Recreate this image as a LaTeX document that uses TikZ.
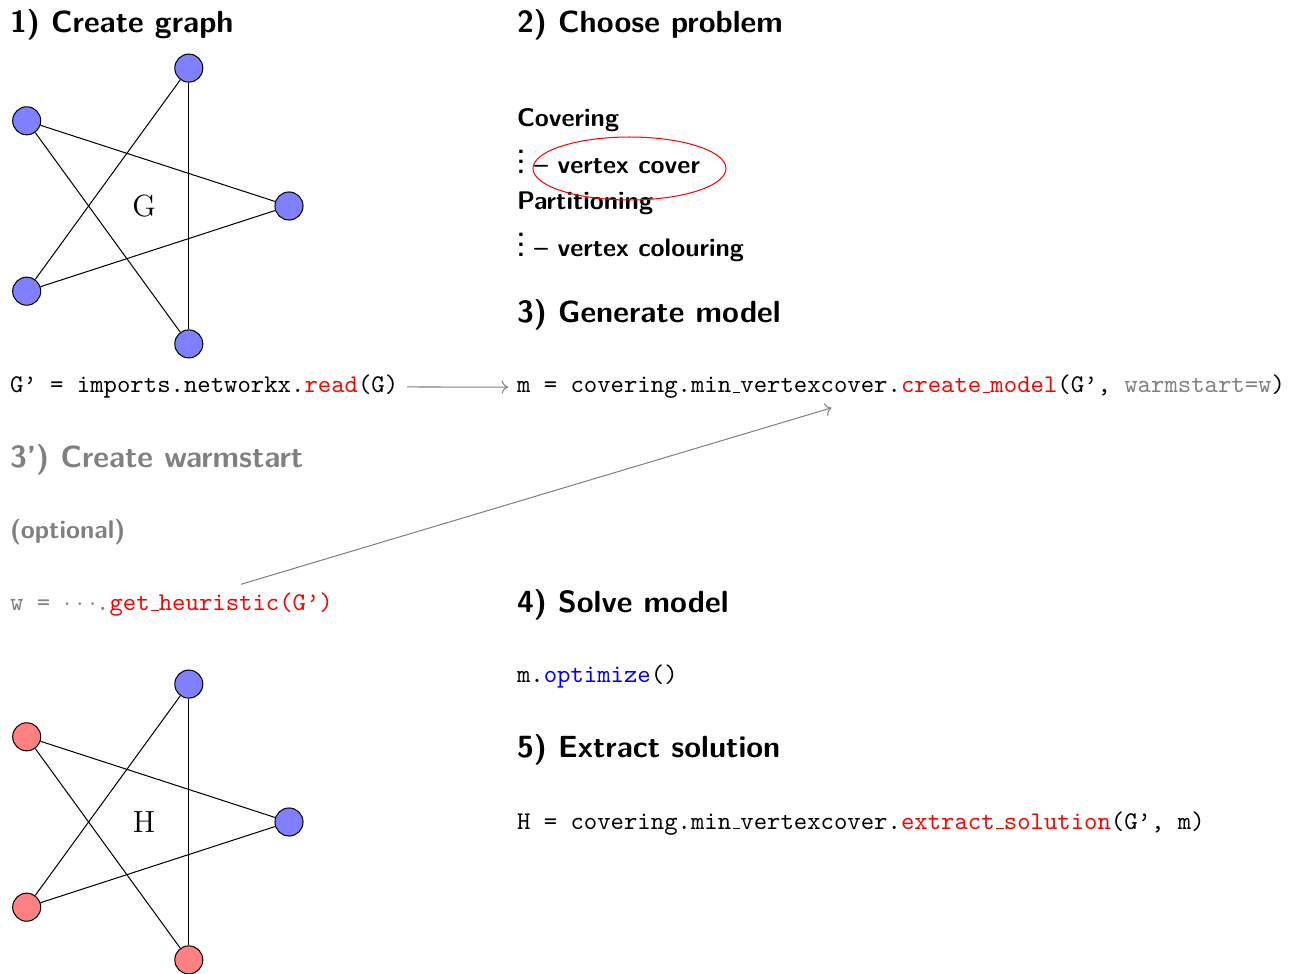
\documentclass[tikz,border=0pt]{standalone}
\usetikzlibrary{arrows.meta}
\newcommand\usc{\leavevmode\kern.06em\vbox{\hrule width.3em}}
\tikzset{
  head/.style={anchor=base west, font=\large\sffamily\bfseries},
  itemtxt/.style={anchor=base west, font=\sffamily\bfseries},
  code/.style={anchor=base west, font=\ttfamily},
  vtx/.style={circle, draw=black, minimum size=11pt, inner sep=0pt},
  bv/.style={vtx, fill=blue!50},
  rv/.style={vtx, fill=red!50},
  edge/.style={draw=black},
  conn/.style={->, draw=black!50},
  faint/.style={text=black!50},
  glabel/.style={font=\large},
}
\begin{document}
\begin{tikzpicture}[x=0.3922pt,y=-0.3922pt]
\useasboundingbox (0,0) rectangle (1295,974);
% headings and texts
\node[head] (h1) at (1,33) {1) Create graph};
\node[head] (h2) at (508,33) {2) Choose problem};
\node[itemtxt] (cov) at (508,126.5) {Covering};
\node[itemtxt] (vc) at (508,173.5) {$\vdots$ – vertex cover};
\node[itemtxt] (par) at (508,209.5) {Partitioning};
\node[itemtxt] (vcol) at (508,256.5) {$\vdots$ – vertex colouring};
\node[head] (h3) at (508,323) {3) Generate model};
\node[code] (read) at (1,393) {G’ = imports.networkx.\textcolor{red}{read}(G)};
\node[code] (cm) at (508,393) {m = covering.min\usc vertexcover.\textcolor{red}{create\usc model}(G’, \textcolor{black!50}{warmstart=w})};
\node[head, faint] (h3p) at (1,468) {3’) Create warmstart};
\node[itemtxt, faint] (opt) at (1,539) {(optional)};
\node[code] (heur) at (1,611) {\textcolor{black!50}{w = $\cdot\cdot\cdot$.}\textcolor{red}{get\usc heuristic(G’)}};
\node[head] (h4) at (508,613) {4) Solve model};
\node[code] (optm) at (508,683) {m.\textcolor{blue}{optimize}()};
\node[head] (h5) at (508,758) {5) Extract solution};
\node[code] (ext) at (508,829) {H = covering.min\usc vertexcover.\textcolor{red}{extract\usc solution}(G’, m)};
% connectors
\draw[conn] (read.east) -- (cm.west);
\draw[conn] (heur) -- (cm);
\draw[red] (629.5,168.5) ellipse [x radius=37.85pt, y radius=12.35pt];
% graph G
\node[glabel] (gl) at (144,206) {G};
\node[bv] (gA) at (289,206) {};
\node[bv] (gB) at (188.8,68.1) {};
\node[bv] (gC) at (26.7,120.8) {};
\node[bv] (gD) at (26.7,291.2) {};
\node[bv] (gE) at (188.8,343.9) {};
\draw[edge] (gB) -- (gD);
\draw[edge] (gB) -- (gE);
\draw[edge] (gC) -- (gA);
\draw[edge] (gC) -- (gE);
\draw[edge] (gA) -- (gD);
% graph H
\node[glabel] (hl) at (144,822) {H};
\node[bv] (hA) at (289,822) {};
\node[bv] (hB) at (188.8,684.1) {};
\node[rv] (hC) at (26.7,736.8) {};
\node[rv] (hD) at (26.7,907.2) {};
\node[rv] (hE) at (188.8,959.9) {};
\draw[edge] (hB) -- (hD);
\draw[edge] (hB) -- (hE);
\draw[edge] (hC) -- (hA);
\draw[edge] (hC) -- (hE);
\draw[edge] (hA) -- (hD);
\end{tikzpicture}
\end{document}
